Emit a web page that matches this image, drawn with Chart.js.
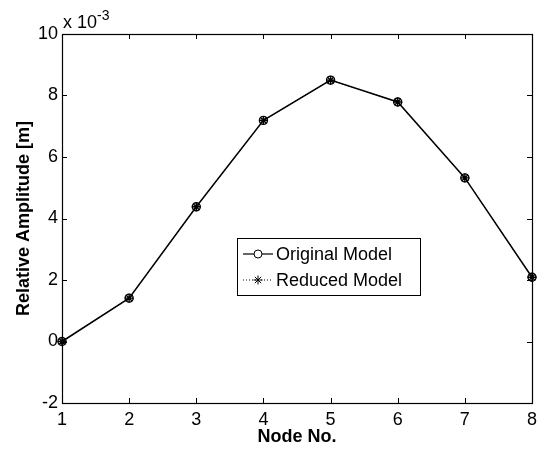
<!DOCTYPE html>
<html>
<head>
<meta charset="utf-8">
<script src="https://cdn.jsdelivr.net/npm/chart.js@4.4.1/dist/chart.umd.min.js"></script>
<style>
  html, body { margin: 0; padding: 0; background: #fff; }
  #wrap { width: 546px; height: 454px; }
</style>
</head>
<body>
<div id="wrap"><canvas id="ampChart" width="546" height="454"></canvas></div>
<script>
// Mode shape data (amplitude in units of 10^-3 m)
const nodes = [1, 2, 3, 4, 5, 6, 7, 8];
const originalValues = [0, 1.41, 4.38, 7.19, 8.5, 7.79, 5.32, 2.09];
const reducedValues = [0, 1.41, 4.38, 7.19, 8.5, 7.79, 5.32, 2.09];
const xTicks = [1, 2, 3, 4, 5, 6, 7, 8];
const yTicks = [-2, 0, 2, 4, 6, 8, 10];

const FONT = "'Liberation Sans', Arial, Helvetica, sans-serif";

function toPoints(vals) {
  return nodes.map((n, i) => ({ x: n, y: vals[i] }));
}

// box, inward ticks, exponent label and legend, MATLAB style
const matlabAxes = {
  id: "matlabAxes",
  afterDraw(chart) {
    const { ctx, chartArea: a, scales } = chart;
    const xs = scales.x, ys = scales.y;
    ctx.save();
    ctx.strokeStyle = "#000";
    ctx.lineWidth = 1.2;
    ctx.strokeRect(a.left + 0.5, a.top + 0.5, a.right - a.left, a.bottom - a.top);

    ctx.lineWidth = 1;
    const tl = 5;
    xTicks.forEach(v => {
      const px = Math.round(xs.getPixelForValue(v)) + 0.5;
      ctx.beginPath();
      ctx.moveTo(px, a.bottom); ctx.lineTo(px, a.bottom - tl);
      ctx.moveTo(px, a.top); ctx.lineTo(px, a.top + tl);
      ctx.stroke();
    });
    yTicks.forEach(v => {
      const py = Math.round(ys.getPixelForValue(v)) + 0.5;
      ctx.beginPath();
      ctx.moveTo(a.left, py); ctx.lineTo(a.left + tl, py);
      ctx.moveTo(a.right, py); ctx.lineTo(a.right - tl, py);
      ctx.stroke();
    });

    // exponent label
    ctx.fillStyle = "#000";
    ctx.textBaseline = "alphabetic";
    ctx.textAlign = "left";
    ctx.font = "18px " + FONT;
    const base = "x 10";
    ctx.fillText(base, a.left + 1, 28);
    const w = ctx.measureText(base).width;
    ctx.font = "14px " + FONT;
    ctx.fillText("-3", a.left + 1 + w, 20);

    // legend
    const bx = 237.5, by = 238.5, bw = 183, bh = 57;
    ctx.fillStyle = "#fff";
    ctx.fillRect(bx, by, bw, bh);
    ctx.strokeStyle = "#000";
    ctx.lineWidth = 1;
    ctx.strokeRect(bx, by, bw, bh);
    const rows = [254, 280];
    chart.data.datasets.forEach((ds, i) => {
      const y = rows[i];
      ctx.save();
      ctx.strokeStyle = "#000";
      ctx.lineWidth = 1.2;
      ctx.setLineDash(ds.borderDash || []);
      ctx.beginPath();
      ctx.moveTo(243, y); ctx.lineTo(273, y);
      ctx.stroke();
      ctx.restore();
      Chart.helpers.drawPoint(ctx, {
        pointStyle: ds.pointStyle,
        radius: ds.pointRadius,
        borderWidth: ds.pointBorderWidth
      }, 258, y);
      ctx.strokeStyle = "#000";
      ctx.fillStyle = "#000";
      ctx.font = "18px " + FONT;
      ctx.textBaseline = "middle";
      ctx.fillText(ds.label, 276, y + 1);
    });
    ctx.restore();
  }
};

new Chart(document.getElementById("ampChart"), {
  type: "line",
  data: {
    datasets: [
      {
        label: "Original Model",
        data: toPoints(originalValues),
        borderColor: "#000",
        borderWidth: 1.5,
        pointStyle: "circle",
        pointRadius: 4,
        pointBorderWidth: 1.4,
        pointBorderColor: "#000",
        pointBackgroundColor: "rgba(0,0,0,0)",
        tension: 0,
        clip: false
      },
      {
        label: "Reduced Model",
        data: toPoints(reducedValues),
        borderColor: "#000",
        borderWidth: 1,
        borderDash: [1, 2],
        pointStyle: "star",
        pointRadius: 4.5,
        pointBorderWidth: 1.4,
        pointBorderColor: "#000",
        pointBackgroundColor: "#000",
        tension: 0,
        clip: false
      }
    ]
  },
  options: {
    responsive: false,
    animation: false,
    events: [],
    layout: { padding: { left: 0, right: 14, top: 34, bottom: 0 } },
    plugins: { legend: { display: false }, tooltip: { enabled: false } },
    scales: {
      x: {
        type: "linear",
        min: 1,
        max: 8,
        afterFit(scale) { scale.height = 51; },
        afterBuildTicks(scale) { scale.ticks = xTicks.map(v => ({ value: v })); },
        grid: { display: false, drawTicks: false },
        border: { display: false },
        ticks: {
          color: "#000",
          font: { family: FONT, size: 18 },
          padding: 6,
          maxRotation: 0,
          autoSkip: false
        },
        title: {
          display: true,
          text: "Node No.",
          color: "#000",
          font: { family: FONT, size: 18, weight: "bold" },
          padding: { top: 0, bottom: 6 }
        }
      },
      y: {
        type: "linear",
        min: -2,
        max: 10,
        afterFit(scale) { scale.width = 62; },
        afterBuildTicks(scale) { scale.ticks = yTicks.map(v => ({ value: v })); },
        grid: { display: false, drawTicks: false },
        border: { display: false },
        ticks: {
          color: "#000",
          font: { family: FONT, size: 18 },
          padding: 4,
          autoSkip: false
        },
        title: {
          display: true,
          text: "Relative Amplitude [m]",
          color: "#000",
          font: { family: FONT, size: 18, weight: "bold" },
          padding: { top: 13, bottom: 0 }
        }
      }
    }
  },
  plugins: [matlabAxes]
});
</script>
</body>
</html>
